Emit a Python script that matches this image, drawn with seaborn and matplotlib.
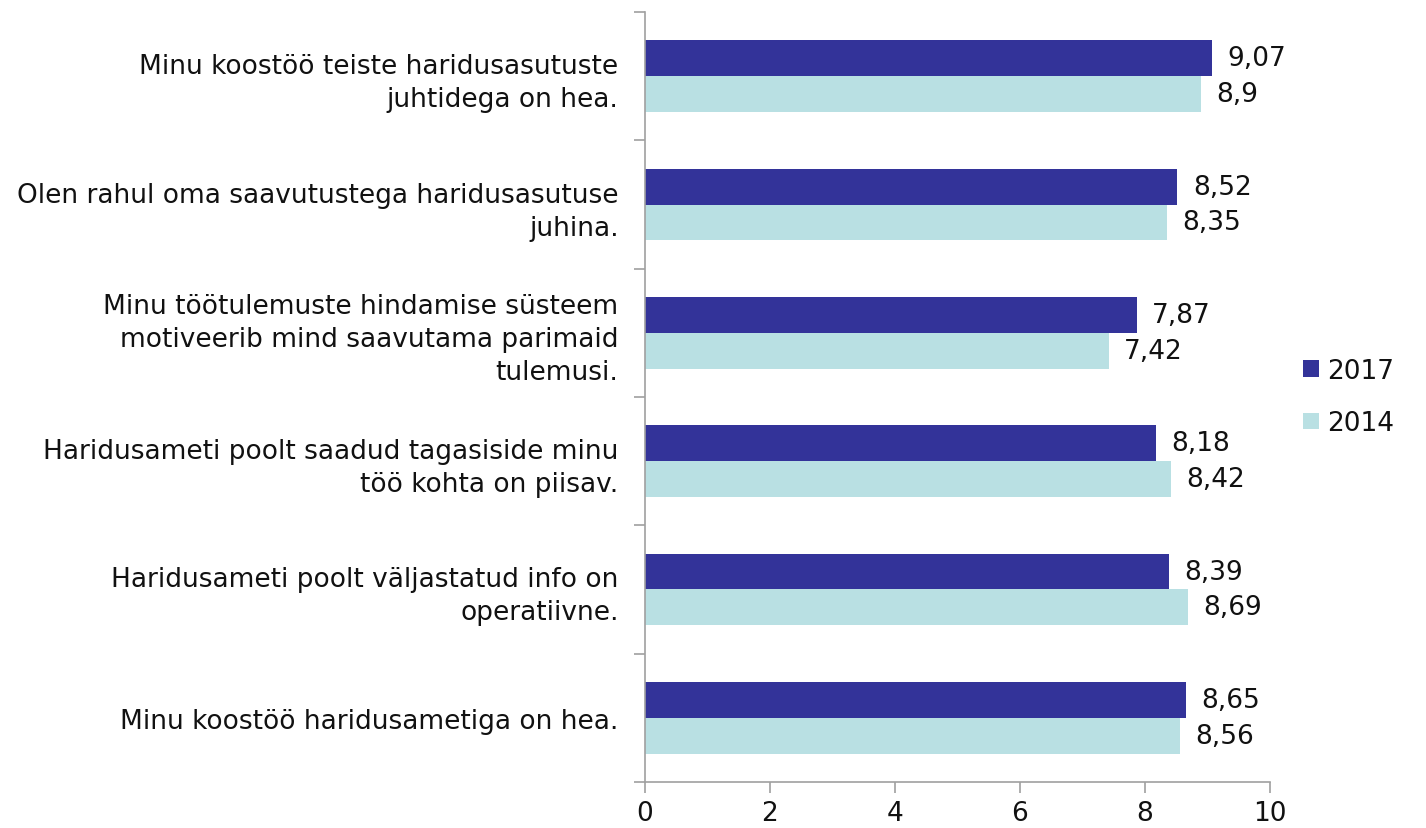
import matplotlib
matplotlib.use("Agg")
import matplotlib.pyplot as plt
import seaborn as sns
import pandas as pd
import numpy as np
from matplotlib.ticker import FixedLocator

categories = [
    "Minu koostöö teiste haridusasutuste\njuhtidega on hea.",
    "Olen rahul oma saavutustega haridusasutuse\njuhina.",
    "Minu töötulemuste hindamise süsteem\nmotiveerib mind saavutama parimaid\ntulemusi.",
    "Haridusameti poolt saadud tagasiside minu\ntöö kohta on piisav.",
    "Haridusameti poolt väljastatud info on\noperatiivne.",
    "Minu koostöö haridusametiga on hea.",
]
values_2017 = [9.07, 8.52, 7.87, 8.18, 8.39, 8.65]
values_2014 = [8.9, 8.35, 7.42, 8.42, 8.69, 8.56]
series = ["2017", "2014"]
xticks = [0, 2, 4, 6, 8, 10]

df = pd.DataFrame({
    "category": categories * 2,
    "value": values_2017 + values_2014,
    "year": ["2017"] * len(categories) + ["2014"] * len(categories),
})

sns.set_style("white")
plt.rcParams["font.family"] = ["DejaVu Sans"]
FS = 19
TXT = "#111111"

fig = plt.figure(figsize=(14.26, 8.29), dpi=100)
ax = fig.add_axes([0.4523, 0.0555, 0.4383, 0.9288])

palette = {"2017": "#333399", "2014": "#b9e0e3"}
sns.barplot(data=df, y="category", x="value", hue="year", hue_order=series,
            order=categories, palette=palette, orient="h", width=0.56,
            saturation=1, linewidth=0, ax=ax, legend=True)

for cont in ax.containers:
    ax.bar_label(cont, labels=[f"{v:g}".replace(".", ",") for v in cont.datavalues],
                 padding=11, fontsize=FS, color=TXT)

ax.set_xlim(0, 10)
ax.set_xticks(xticks)
ax.set_xticklabels([str(t) for t in xticks], fontsize=FS, color=TXT)
ax.set_ylim(len(categories) - 0.5, -0.5)
ax.set_xlabel("")
ax.set_ylabel("")
ax.tick_params(axis="y", which="major", length=0, labelsize=FS, pad=19, labelcolor=TXT)
ax.yaxis.set_minor_locator(FixedLocator(np.arange(-0.5, len(categories), 1)))
ax.tick_params(axis="y", which="minor", length=8, color="#a0a0a0", width=1.2, left=True)
ax.tick_params(axis="x", which="major", length=8, color="#a0a0a0", width=1.2, bottom=True, pad=5)
for lab in ax.get_yticklabels():
    lab.set_horizontalalignment("right")
    lab.set_multialignment("right")
    lab.set_linespacing(1.35)
for s in ["top", "right"]:
    ax.spines[s].set_visible(False)
for s in ["left", "bottom"]:
    ax.spines[s].set_color("#a0a0a0")
    ax.spines[s].set_linewidth(1.2)

leg = ax.legend(loc="center left", bbox_to_anchor=(1.015, 0.5), frameon=False,
                fontsize=FS, handlelength=0.6, handleheight=0.6, handletextpad=0.3,
                labelspacing=1.0, labelcolor=TXT)

fig.savefig("out.png", dpi=100)
